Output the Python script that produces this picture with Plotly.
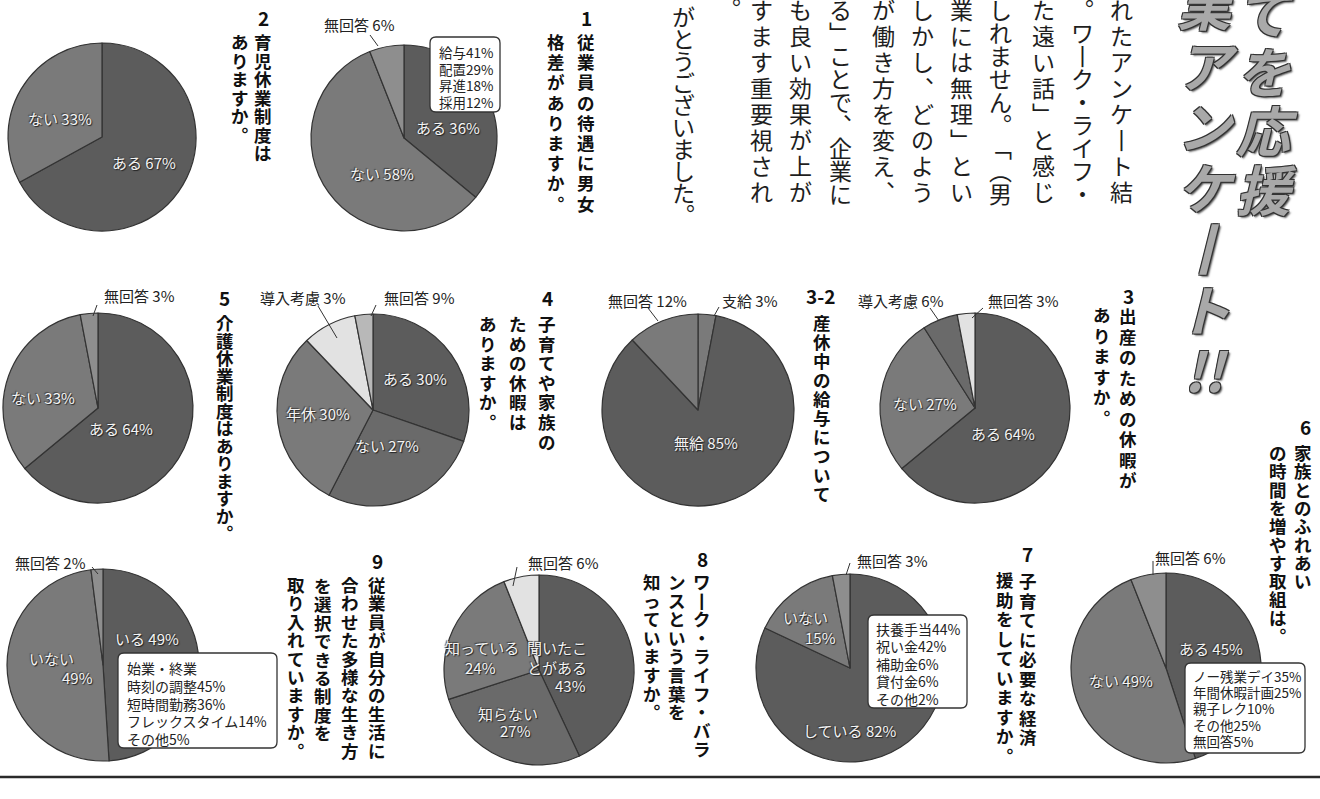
import plotly.graph_objects as go

W, H = 1320, 799

# ---------------- data ----------------
q1_labels = ["ある", "ない", "無回答"]
q1_values = [36, 58, 6]
q1_detail_labels = ["給与", "配置", "昇進", "採用"]
q1_detail_values = [41, 29, 18, 12]

q2_labels = ["ある", "ない"]
q2_values = [67, 33]

q3_labels = ["ある", "ない", "導入考慮", "無回答"]
q3_values = [64, 27, 6, 3]

q32_labels = ["支給", "無給", "無回答"]
q32_values = [3, 85, 12]

q4_labels = ["ある", "ない", "年休", "無回答", "導入考慮"]
q4_values = [30, 27, 30, 9, 3]

q5_labels = ["ある", "ない", "無回答"]
q5_values = [64, 33, 3]

q6_labels = ["ある", "ない", "無回答"]
q6_values = [45, 49, 6]
q6_detail_labels = ["ノー残業デイ", "年間休暇計画", "親子レク", "その他", "無回答"]
q6_detail_values = [35, 25, 10, 25, 5]

q7_labels = ["している", "いない", "無回答"]
q7_values = [82, 15, 3]
q7_detail_labels = ["扶養手当", "祝い金", "補助金", "貸付金", "その他"]
q7_detail_values = [44, 42, 6, 6, 2]

q8_labels = ["聞いたことがある", "知らない", "知っている", "無回答"]
q8_values = [43, 27, 24, 6]

q9_labels = ["いる", "いない", "無回答"]
q9_values = [49, 49, 2]
q9_detail_labels = ["始業・終業|時刻の調整", "短時間勤務", "フレックスタイム", "その他"]
q9_detail_values = [45, 36, 14, 5]

title_numbers = ["1", "2", "3", "3-2", "4", "5", "6", "7", "8", "9"]
title_texts = [
    ["従業員の待遇に男女", "格差がありますか。"],
    ["育児休業制度は", "ありますか。"],
    ["出産のための休暇が", "ありますか。"],
    ["産休中の給与について"],
    ["子育てや家族の", "ための休暇は", "ありますか。"],
    ["介護休業制度はありますか。"],
    ["家族とのふれあい", "の時間を増やす取組は。"],
    ["子育てに必要な経済", "援助をしていますか。"],
    ["ワーク・ライフ・バラ", "ンスという言葉を", "知っていますか。"],
    ["従業員が自分の生活に", "合わせた多様な生き方", "を選択できる制度を", "取り入れていますか。"],
]

body_columns = ["れたアンケート結", "。ワーク・ライフ・", "た遠い話」と感じ", "しれません。「(男",
                "業には無理」とい", "しかし、どのよう", "が働き方を変え、", "る」ことで、企業に",
                "も良い効果が上が", "すます重要視され", "。", "がとうございました。"]

headline_columns = ["てを応援", "業アンケート!"]

# ---------------- helpers ----------------
FONT = "Noto Sans CJK JP"
fig = go.Figure()
ann = []
shapes = []


def fx(x):
    return x / W


def fy(y):
    return 1 - y / H


def add_pie(labels, values, cx, cy, r, colors):
    fig.add_trace(go.Pie(
        labels=labels, values=values, sort=False, direction="clockwise", rotation=0,
        textinfo="none", hoverinfo="label+percent", showlegend=False,
        marker=dict(colors=colors, line=dict(color="#333333", width=1.2)),
        domain=dict(x=[fx(cx - r), fx(cx + r)], y=[fy(cy + r), fy(cy - r)]),
    ))


def text(t, x, y, size=15, color="#222", xanchor="center", shadow=None, bold=False):
    f = dict(family=FONT, size=size, color=color)
    if shadow:
        f["shadow"] = shadow
    ann.append(dict(text=("<b>%s</b>" % t) if bold else t, x=fx(x), y=fy(y), xref="paper", yref="paper",
                    showarrow=False, xanchor=xanchor, yanchor="middle", font=f))


IN_SHADOW = "1px 1px 1px #222, -1px -1px 1px #444"


def inlab(t, x, y, size=15):
    text(t, x, y, size=size, color="#f4f4f4", shadow=IN_SHADOW)


def leader(x0, y0, x1, y1):
    shapes.append(dict(type="line", xref="paper", yref="paper", x0=fx(x0), y0=fy(y0), x1=fx(x1), y1=fy(y1),
                       line=dict(color="#333", width=1)))


def rbox(x0, y0, x1, y1, rad=6):
    def p(x, y):
        return "%.5f,%.5f" % (fx(x), fy(y))
    path = ("M " + p(x0 + rad, y0) + " L " + p(x1 - rad, y0) + " Q " + p(x1, y0) + " " + p(x1, y0 + rad) +
            " L " + p(x1, y1 - rad) + " Q " + p(x1, y1) + " " + p(x1 - rad, y1) +
            " L " + p(x0 + rad, y1) + " Q " + p(x0, y1) + " " + p(x0, y1 - rad) +
            " L " + p(x0, y0 + rad) + " Q " + p(x0, y0) + " " + p(x0 + rad, y0) + " Z")
    shapes.append(dict(type="path", path=path, xref="paper", yref="paper",
                       fillcolor="white", line=dict(color="#333", width=1.3), layer="above"))


VMAP = {"。": "︒", "、": "︑", "「": "﹁", "」": "﹂", "(": "︵", ")": "︶", "ー": "丨"}


def vcol(chars, x, y_first, adv, glyph, color="#111", bold=False, shadow=None, italic=False):
    """Vertical column of characters as one multi-line text; line pitch = adv px."""
    chars = list(chars)
    if "!" in chars:
        i = chars.index("!")
        chars = chars[:i] + ["!!"]
    base = adv / 1.3
    lines = []
    for ch in chars:
        g = VMAP.get(ch, ch)
        if italic:
            g = "<i>%s</i>" % g
        lines.append("<span style='font-size:%.1fpx'>%s</span>" % (glyph, g))
    t = "<br>".join(lines)
    if bold:
        t = "<b>%s</b>" % t
    yc = y_first + (len(chars) - 1) * adv / 2.0
    f = dict(family=FONT, size=base, color=color)
    if shadow:
        f["shadow"] = shadow
    ann.append(dict(text=t, x=fx(x), y=fy(yc), xref="paper", yref="paper", showarrow=False,
                    xanchor="center", yanchor="middle", font=f))


def pct(labels, values, i):
    return "%s %d%%" % (labels[i], values[i])


DARK, MID, MID2, LIGHT, PALE, WHITE = "#5c5c5c", "#7a7a7a", "#6a6a6a", "#8e8e8e", "#b8b8b8", "#e2e2e2"

# ---------------- pies ----------------
add_pie(q2_labels, q2_values, 102, 137, 94, [DARK, MID])
add_pie(q1_labels, q1_values, 404, 138, 93, [DARK, MID, LIGHT])
add_pie(q5_labels, q5_values, 98, 408, 95, [DARK, MID, LIGHT])
add_pie(q4_labels, q4_values, 373, 410, 96, [DARK, MID2, MID, WHITE, PALE])
add_pie(q32_labels, q32_values, 698, 410, 96, [MID, DARK, MID])
add_pie(q3_labels, q3_values, 975, 408, 95, [DARK, MID, MID2, WHITE])
add_pie(q9_labels, q9_values, 103, 665, 96, [DARK, MID, LIGHT])
add_pie(q8_labels, q8_values, 539, 670, 95, [DARK, MID2, MID, WHITE])
add_pie(q7_labels, q7_values, 850, 668, 94, [DARK, MID, LIGHT])
add_pie(q6_labels, q6_values, 1166, 668, 95, [DARK, MID, LIGHT])

# ---------------- pie labels ----------------
inlab(pct(q2_labels, q2_values, 1), 60, 118)
inlab(pct(q2_labels, q2_values, 0), 144, 163)

text(pct(q1_labels, q1_values, 2), 359, 25)
leader(370, 35, 378, 46)
inlab(pct(q1_labels, q1_values, 0), 448, 128)
inlab(pct(q1_labels, q1_values, 1), 382, 173)

text(pct(q5_labels, q5_values, 2), 139, 295)
leader(97, 305, 93, 316)
inlab(pct(q5_labels, q5_values, 1), 43, 397)
inlab(pct(q5_labels, q5_values, 0), 121, 428)

text(pct(q4_labels, q4_values, 4), 303, 297)
leader(318, 306, 337, 338)
text(pct(q4_labels, q4_values, 3), 419, 297)
leader(376, 305, 371, 316)
inlab(pct(q4_labels, q4_values, 0), 415, 378)
inlab(pct(q4_labels, q4_values, 2), 318, 413)
inlab(pct(q4_labels, q4_values, 1), 387, 445)

text(pct(q32_labels, q32_values, 2), 647, 300)
leader(648, 308, 658, 321)
text(pct(q32_labels, q32_values, 0), 750, 300)
leader(719, 307, 714, 316)
inlab(pct(q32_labels, q32_values, 1), 706, 442)

text(pct(q3_labels, q3_values, 2), 901, 300)
leader(930, 308, 939, 321)
text(pct(q3_labels, q3_values, 3), 1023, 300)
leader(983, 308, 972, 318)
inlab(pct(q3_labels, q3_values, 1), 925, 403)
inlab(pct(q3_labels, q3_values, 0), 1003, 433)

text(pct(q9_labels, q9_values, 2), 50, 562)
leader(92, 567, 98, 574)
inlab(pct(q9_labels, q9_values, 0), 147, 638)
inlab(q9_labels[1], 51, 658)
inlab("%d%%" % q9_values[1], 77, 677)

text(pct(q8_labels, q8_values, 3), 563, 562)
leader(517, 567, 513, 586)
inlab(q8_labels[2], 482, 647)
inlab("%d%%" % q8_values[2], 480, 667)
inlab(q8_labels[0][:4], 557, 647)
inlab(q8_labels[0][4:], 557, 667)
inlab("%d%%" % q8_values[0], 570, 685)
inlab(q8_labels[1], 508, 713)
inlab("%d%%" % q8_values[1], 515, 730)

text(pct(q7_labels, q7_values, 2), 892, 560)
leader(850, 563, 846, 575)
inlab(q7_labels[1], 805, 617)
inlab("%d%%" % q7_values[1], 820, 637)
inlab(pct(q7_labels, q7_values, 0), 850, 730)

text(pct(q6_labels, q6_values, 2), 1190, 557)
leader(1153, 561, 1153, 575)
inlab(pct(q6_labels, q6_values, 0), 1211, 648)
inlab(pct(q6_labels, q6_values, 1), 1121, 680)

# ---------------- callout boxes ----------------
rbox(430, 37, 500, 112)
for i, (lb, v) in enumerate(zip(q1_detail_labels, q1_detail_values)):
    text("%s%d%%" % (lb, v), 437, 52 + i * 16.7, size=13.5, xanchor="left")

rbox(118, 653, 277, 748)
lines9 = []
for lb, v in zip(q9_detail_labels, q9_detail_values):
    parts = lb.split("|")
    lines9 += parts[:-1] + ["%s%d%%" % (parts[-1], v)]
for i, t in enumerate(lines9):
    text(t, 125, 668 + i * 17.8, size=14, xanchor="left")

rbox(868, 615, 967, 708)
for i, (lb, v) in enumerate(zip(q7_detail_labels, q7_detail_values)):
    text("%s%d%%" % (lb, v), 874, 629 + i * 17.4, size=14, xanchor="left")

rbox(1185, 663, 1305, 753)
for i, (lb, v) in enumerate(zip(q6_detail_labels, q6_detail_values)):
    text("%s%d%%" % (lb, v), 1191, 676 + i * 16.2, size=13.5, xanchor="left")

# ---------------- titles ----------------
title_pos = [
    (586, 17, [586, 556], 42, 20.2),
    (263, 17, [263, 240], 42, 18.5),
    (1128, 295, [1128, 1102], 315, 20.5),
    (820, 295, [822], 322, 19.0),
    (547, 297, [547, 518, 488], 324, 19.6),
    (225, 297, [225], 322, 17.5),
    (1305, 426, [1303, 1278], 452, 18.3),
    (1027, 553, [1028, 1005], 580, 19.5),
    (702, 558, [702, 677, 652], 581, 18.6),
    (377, 560, [377, 350, 323, 296], 585, 18.4),
]
for num, cols, (nx, ny, xs, y0, adv) in zip(title_numbers, title_texts, title_pos):
    text(num, nx, ny, size=19, color="#111", bold=True)
    for cx, s in zip(xs, cols):
        vcol(s, cx, y0, adv, 17.5, color="#111", bold=True)

# ---------------- body text ----------------
body_x = [1121, 1082, 1043, 1000, 961, 922, 883, 840, 800, 761, 729, 683]
body_last_y = [191, 193, 191, 193, 191, 191, 191, 193, 191, 191, 8, 214]
body_adv = [26, 23, 26, 23, 26, 26, 26, 23, 26, 26, 26, 22]
for s, x, yl, adv in zip(body_columns, body_x, body_last_y, body_adv):
    vcol(s, x, yl - (len(s) - 1) * adv, adv, 23, color="#1e1e1e")

# ---------------- headline ----------------
HL_SHADOW = "1px 1px 0 #333, -1px -1px 0 #333, 1px -1px 0 #333, -1px 1px 0 #333, 2px 2px 2px #555"
vcol(headline_columns[0], 1267, 10, 59, 54, color="#a9a9a9", bold=True, shadow=HL_SHADOW, italic=True)
vcol(headline_columns[1], 1207, 2, 61, 54, color="#a9a9a9", bold=True, shadow=HL_SHADOW, italic=True)

# bottom rule
shapes.append(dict(type="line", xref="paper", yref="paper", x0=0, x1=1, y0=fy(777), y1=fy(777),
                   line=dict(color="#2a2a2a", width=2.5)))

fig.update_layout(
    width=W, height=H, margin=dict(l=0, r=0, t=0, b=0),
    paper_bgcolor="white", plot_bgcolor="white",
    annotations=ann, shapes=shapes, showlegend=False,
)
fig.write_html("out.html")
